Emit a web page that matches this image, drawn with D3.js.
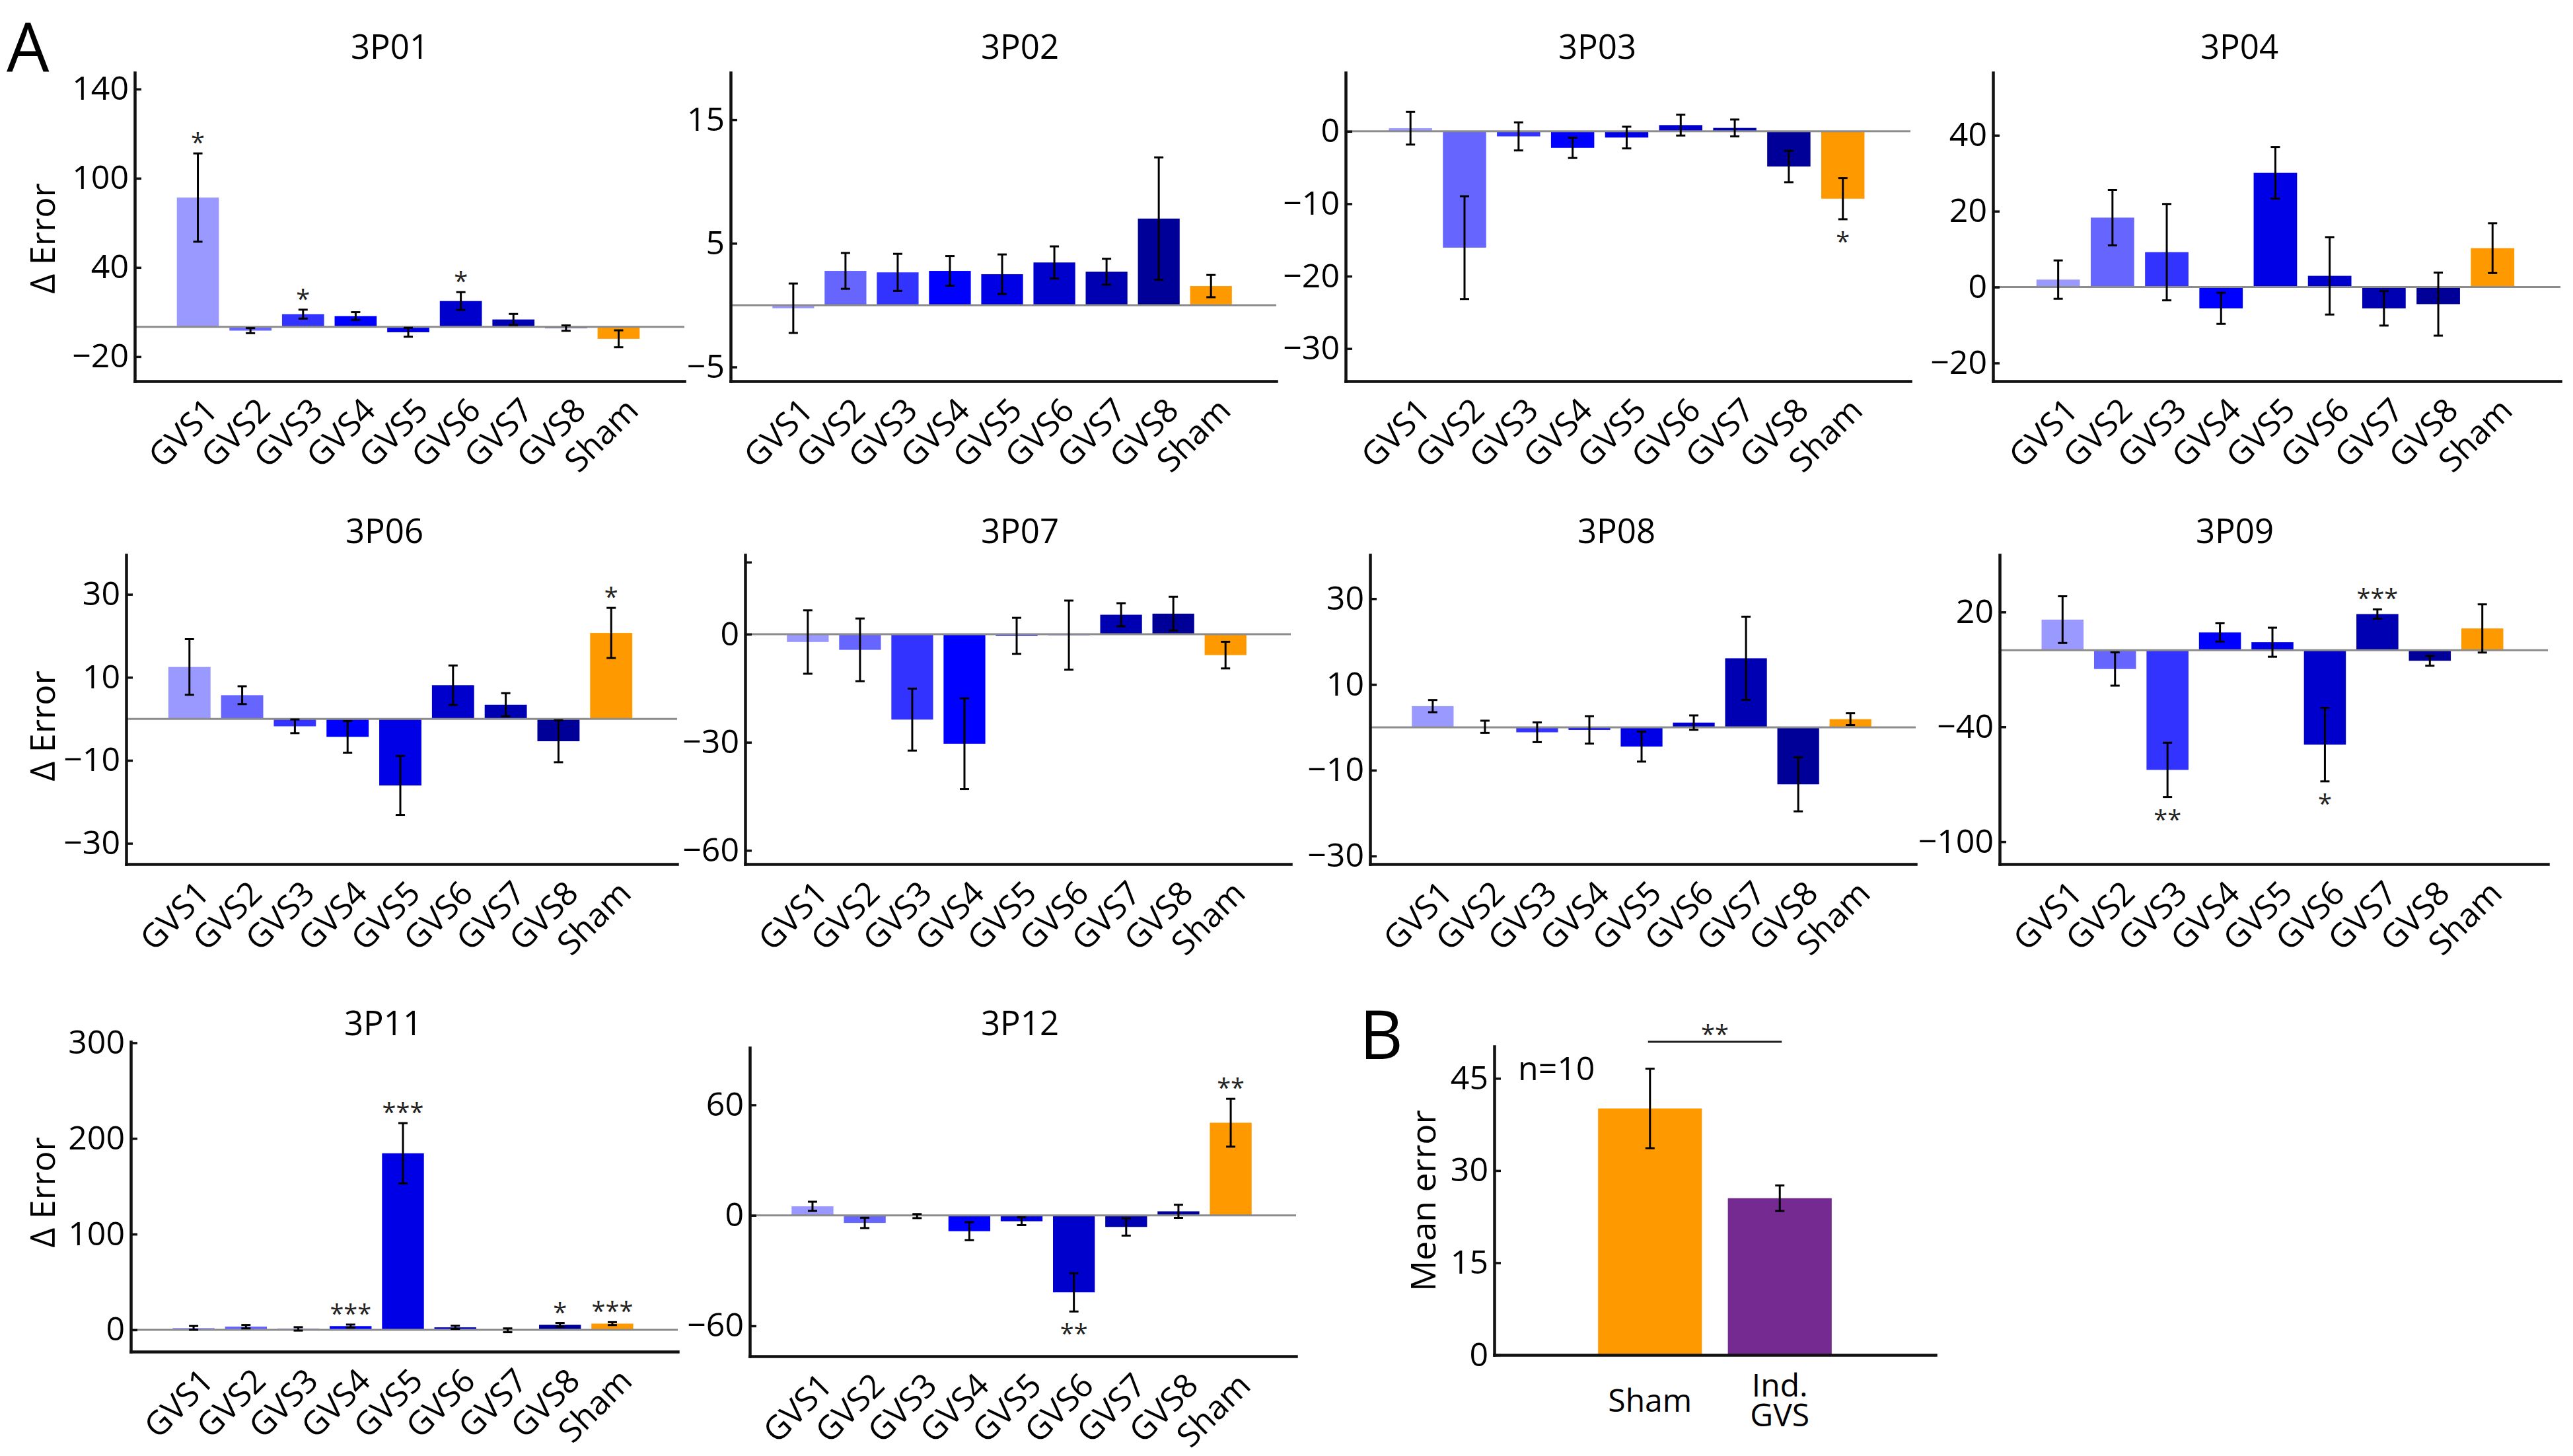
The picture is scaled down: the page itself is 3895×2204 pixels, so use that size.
<!DOCTYPE html>
<html>
<head>
<meta charset="utf-8">
<script src="https://cdnjs.cloudflare.com/ajax/libs/d3/7.8.5/d3.min.js"></script>
<style>
body { margin: 0; background: #fff; }
svg text { font-family: "Open Sans", "Noto Sans", sans-serif; fill: #000; }
</style>
</head>
<body>
<div id="figure"></div>
<script>
// ---- data ----
var conditions = ["GVS1", "GVS2", "GVS3", "GVS4", "GVS5", "GVS6", "GVS7", "GVS8", "Sham"];

var mean3P01 = [87, -2.5, 8.6, 7.3, -3.6, 17.4, 5.0, -0.8, -8.0];
var err3P01 = [29.7, 1.7, 3.0, 2.6, 3.0, 6.0, 3.7, 1.8, 5.7];
var sig3P01 = ["*", "", "*", "", "", "*", "", "", ""];
var ticks3P01 = [-20, 40, 100, 160];
var tickText3P01 = ["−20", "40", "100", "140"];

var mean3P02 = [-0.25, 2.77, 2.65, 2.77, 2.5, 3.45, 2.7, 7.0, 1.54];
var err3P02 = [2.0, 1.45, 1.5, 1.2, 1.6, 1.3, 1.05, 4.95, 0.9];
var sig3P02 = ["", "", "", "", "", "", "", "", ""];
var ticks3P02 = [-5, 5, 15];
var tickText3P02 = ["−5", "5", "15"];

var mean3P03 = [0.43, -16.06, -0.7, -2.28, -0.86, 0.86, 0.47, -4.86, -9.3];
var err3P03 = [2.26, 7.1, 1.94, 1.4, 1.5, 1.44, 1.16, 2.17, 2.84];
var sig3P03 = ["", "", "", "", "", "", "", "", "*"];
var ticks3P03 = [-30, -20, -10, 0];
var tickText3P03 = ["−30", "−20", "−10", "0"];

var mean3P04 = [1.97, 18.3, 9.2, -5.6, 30.1, 2.96, -5.6, -4.5, 10.26];
var err3P04 = [5.05, 7.3, 12.7, 4.1, 6.8, 10.2, 4.55, 8.3, 6.57];
var sig3P04 = ["", "", "", "", "", "", "", "", ""];
var ticks3P04 = [-20, 0, 20, 40];
var tickText3P04 = ["−20", "0", "20", "40"];

var mean3P06 = [12.5, 5.7, -1.8, -4.35, -16.05, 8.1, 3.4, -5.4, 20.7];
var err3P06 = [6.7, 2.14, 1.65, 3.8, 7.1, 4.76, 2.78, 5.06, 6.04];
var sig3P06 = ["", "", "", "", "", "", "", "", "*"];
var ticks3P06 = [-30, -10, 10, 30];
var tickText3P06 = ["−30", "−10", "10", "30"];

var mean3P07 = [-2.17, -4.34, -23.7, -30.4, -0.45, -0.26, 5.4, 5.7, -5.8];
var err3P07 = [8.8, 8.7, 8.6, 12.6, 5.0, 9.6, 3.2, 4.7, 3.7];
var sig3P07 = ["", "", "", "", "", "", "", "", ""];
var ticks3P07 = [-60, -30, 0, 20];
var tickText3P07 = ["−60", "−30", "0", ""];

var mean3P08 = [4.94, 0.12, -1.16, -0.6, -4.5, 1.1, 16.1, -13.3, 1.9];
var err3P08 = [1.42, 1.42, 2.3, 3.2, 3.5, 1.67, 9.7, 6.3, 1.38];
var sig3P08 = ["", "", "", "", "", "", "", "", ""];
var ticks3P08 = [-30, -10, 10, 30];
var tickText3P08 = ["−30", "−10", "10", "30"];

var mean3P09 = [16.0, -9.8, -62.5, 9.3, 4.2, -49.3, 18.9, -5.5, 11.4];
var err3P09 = [12.2, 8.7, 14.2, 4.8, 7.6, 19.2, 2.45, 2.6, 12.6];
var sig3P09 = ["", "", "**", "", "", "*", "***", "", ""];
var ticks3P09 = [-100, -40, 20];
var tickText3P09 = ["−100", "−40", "20"];

var mean3P11 = [2.0, 3.3, 1.0, 3.9, 184.5, 2.6, -0.5, 5.2, 6.5];
var err3P11 = [2.0, 1.8, 1.8, 1.6, 31.5, 1.6, 2.0, 2.0, 1.5];
var sig3P11 = ["", "", "", "***", "***", "", "", "*", "***"];
var ticks3P11 = [0, 100, 200, 300];
var tickText3P11 = ["0", "100", "200", "300"];

var mean3P12 = [4.9, -4.1, -0.4, -8.6, -3.2, -41.8, -6.3, 2.2, 50.3];
var err3P12 = [2.5, 2.8, 1.1, 4.9, 2.1, 10.4, 4.7, 3.55, 13.0];
var sig3P12 = ["", "", "", "", "", "**", "", "", "**"];
var ticks3P12 = [-60, 0, 60];
var tickText3P12 = ["−60", "0", "60"];

// panel B
var groupLabels = [["Sham"], ["Ind.", "GVS"]];
var groupMeans = [40.1, 25.5];
var groupErr = [6.46, 2.08];
var groupSig = "**";
var groupN = "n=10";
var ticksB = [0, 15, 30, 45];
var tickTextB = ["0", "15", "30", "45"];

// ---- styles ----
var barColors = ["#9999ff", "#6666ff", "#3333ff", "#0000ff", "#0000e6", "#0000cc", "#0000b3", "#000099", "#ff9900"];
var groupColors = ["#ff9900", "#742a91"];

// ---- layout (pixel boxes and axis limits per panel) ----
var layout = [
    {name: "3P01", mean: mean3P01, err: err3P01, sig: sig3P01, ticks: ticks3P01, tickText: tickText3P01,
     left: 204, right: 1036, top: 110, bottom: 577, yMin: -36.5, yMax: 171, titleX: 590, titleY: 71, ylabelY: 361},
    {name: "3P02", mean: mean3P02, err: err3P02, sig: sig3P02, ticks: ticks3P02, tickText: tickText3P02,
     left: 1106, right: 1932, top: 110, bottom: 577, yMin: -6.15, yMax: 18.8, titleX: 1544, titleY: 71},
    {name: "3P03", mean: mean3P03, err: err3P03, sig: sig3P03, ticks: ticks3P03, tickText: tickText3P03,
     left: 2037, right: 2892, top: 110, bottom: 577, yMin: -34.5, yMax: 8.1, titleX: 2418, titleY: 71},
    {name: "3P04", mean: mean3P04, err: err3P04, sig: sig3P04, ticks: ticks3P04, tickText: tickText3P04,
     left: 3017, right: 3876, top: 110, bottom: 577, yMin: -24.8, yMax: 56.5, titleX: 3390, titleY: 71},
    {name: "3P06", mean: mean3P06, err: err3P06, sig: sig3P06, ticks: ticks3P06, tickText: tickText3P06,
     left: 191, right: 1025, top: 840, bottom: 1308, yMin: -35, yMax: 39.5, titleX: 582, titleY: 804, ylabelY: 1099},
    {name: "3P07", mean: mean3P07, err: err3P07, sig: sig3P07, ticks: ticks3P07, tickText: tickText3P07,
     left: 1128, right: 1954, top: 840, bottom: 1308, yMin: -63.8, yMax: 22, titleX: 1544, titleY: 804},
    {name: "3P08", mean: mean3P08, err: err3P08, sig: sig3P08, ticks: ticks3P08, tickText: tickText3P08,
     left: 2074, right: 2900, top: 840, bottom: 1308, yMin: -31.9, yMax: 40.2, titleX: 2447, titleY: 804},
    {name: "3P09", mean: mean3P09, err: err3P09, sig: sig3P09, ticks: ticks3P09, tickText: tickText3P09,
     left: 3027, right: 3857, top: 840, bottom: 1308, yMin: -111.7, yMax: 49.8, titleX: 3383, titleY: 804},
    {name: "3P11", mean: mean3P11, err: err3P11, sig: sig3P11, ticks: ticks3P11, tickText: tickText3P11,
     left: 198, right: 1026, top: 1577, bottom: 2046, yMin: -22.8, yMax: 301, titleX: 580, titleY: 1549, ylabelY: 1805},
    {name: "3P12", mean: mean3P12, err: err3P12, sig: sig3P12, ticks: ticks3P12, tickText: tickText3P12,
     left: 1135, right: 1962, top: 1586, bottom: 2053, yMin: -76.5, yMax: 91, titleX: 1544, titleY: 1549}
];
var layoutB = {left: 2262, right: 2930, top: 1584, bottom: 2051, yMin: 0, yMax: 50.2};

var svg = d3.select("#figure").append("svg")
    .attr("width", 3895)
    .attr("height", 2204);

// ---- one GVS panel ----
barPanel = function(_svg, _panel) {
    this.svg = _svg;
    this.panel = _panel;
    this.initVis();
}

barPanel.prototype.initVis = function() {
    var vis = this;
    var p = vis.panel;
    vis.g = vis.svg.append("g").attr("class", "panel");

    vis.x = d3.scaleLinear().domain([-0.2, 10.25]).range([p.left, p.right]);
    vis.y = d3.scaleLinear().domain([p.yMin, p.yMax]).range([p.bottom, p.top]);
    var half = (vis.x(0.8) - vis.x(0)) / 2;

    vis.g.selectAll(".bar")
        .data(p.mean)
        .enter()
        .append("rect")
        .attr("class", "bar")
        .attr("x", function(d, i) { return vis.x(i + 1) - half; })
        .attr("y", function(d) { return vis.y(Math.max(0, d)); })
        .attr("width", half * 2)
        .attr("height", function(d) { return Math.abs(vis.y(d) - vis.y(0)); })
        .attr("fill", function(d, i) { return barColors[i]; });

    // zero line
    vis.g.append("line")
        .attr("x1", p.left).attr("x2", p.right)
        .attr("y1", vis.y(0)).attr("y2", vis.y(0))
        .attr("stroke", "#8c8c8c")
        .attr("stroke-width", 3);

    drawErrorBars(vis.g, p.mean, p.err, function(i) { return vis.x(i + 1); }, vis.y);

    // significance stars (baseline sits ~21px under the star's middle)
    vis.g.selectAll(".sig")
        .data(p.sig)
        .enter()
        .append("text")
        .attr("class", "sig")
        .attr("x", function(d, i) { return vis.x(i + 1); })
        .attr("y", function(d, i) {
            var v = p.mean[i], e = p.err[i];
            return v >= 0 ? vis.y(v + e) - 24 + 21 : vis.y(v - e) + 26 + 21;
        })
        .attr("text-anchor", "middle")
        .attr("font-size", 38)
        .style("fill", "#222")
        .text(function(d) { return d; });

    // axes
    var yAxis = d3.axisLeft(vis.y)
        .tickValues(p.ticks)
        .tickFormat(function(d, i) { return p.tickText[i]; })
        .tickSizeInner(-10)
        .tickSizeOuter(0)
        .tickPadding(9);
    var yg = vis.g.append("g").attr("transform", "translate(" + p.left + ",0)").call(yAxis);
    styleAxis(yg, 50);
    yg.selectAll(".tick text").filter(function() { return this.textContent === ""; }).remove();

    var xAxis = d3.axisBottom(vis.x)
        .tickValues(d3.range(1, 10))
        .tickFormat(function(d) { return conditions[d - 1]; })
        .tickSize(0)
        .tickSizeOuter(0);
    var xg = vis.g.append("g").attr("transform", "translate(0," + p.bottom + ")").call(xAxis);
    styleAxis(xg, 50);
    xg.selectAll(".tick text")
        .attr("x", 0).attr("y", 0).attr("dy", "0.35em")
        .style("text-anchor", "end")
        .attr("transform", "translate(20,35) rotate(-45)");

    vis.g.append("text")
        .attr("x", (p.titleX)).attr("y", p.titleY)
        .attr("dy", "0.35em")
        .attr("text-anchor", "middle")
        .attr("font-size", 51)
        .text(p.name);

    if (p.ylabelY) {
        vis.g.append("text")
            .attr("transform", "translate(65," + p.ylabelY + ") rotate(-90)")
            .attr("dy", "0.35em")
            .attr("text-anchor", "middle")
            .attr("font-size", 52)
            .text("Δ Error");
    }
}

function drawErrorBars(g, means, errs, xOf, y) {
    var cap = 7;
    var eb = g.append("g").attr("class", "errorbars")
        .attr("stroke", "#000").attr("stroke-width", 3);
    means.forEach(function(v, i) {
        var cx = xOf(i), lo = y(v - errs[i]), hi = y(v + errs[i]);
        eb.append("line").attr("x1", cx).attr("x2", cx).attr("y1", lo).attr("y2", hi);
        eb.append("line").attr("x1", cx - cap).attr("x2", cx + cap).attr("y1", lo).attr("y2", lo);
        eb.append("line").attr("x1", cx - cap).attr("x2", cx + cap).attr("y1", hi).attr("y2", hi);
    });
}

function styleAxis(g, fontSize) {
    g.attr("font-size", fontSize);
    g.select(".domain").attr("stroke", "#111").attr("stroke-width", 4.5).attr("stroke-linecap", "square");
    g.selectAll(".tick line").attr("stroke", "#111").attr("stroke-width", 3.5);
}

layout.forEach(function(p) { new barPanel(svg, p); });

// ---- panel B ----
(function() {
    var p = layoutB;
    var g = svg.append("g").attr("class", "panelB");
    var x = d3.scaleLinear().domain([-0.2, 3.2]).range([p.left, p.right]);
    var y = d3.scaleLinear().domain([p.yMin, p.yMax]).range([p.bottom, p.top]);
    var half = (x(0.8) - x(0)) / 2;

    g.selectAll(".bar")
        .data(groupMeans)
        .enter()
        .append("rect")
        .attr("x", function(d, i) { return x(i + 1) - half; })
        .attr("y", function(d) { return y(d); })
        .attr("width", half * 2)
        .attr("height", function(d) { return y(0) - y(d); })
        .attr("fill", function(d, i) { return groupColors[i]; });

    drawErrorBars(g, groupMeans, groupErr, function(i) { return x(i + 1); }, y);

    var yAxis = d3.axisLeft(y)
        .tickValues(ticksB)
        .tickFormat(function(d, i) { return tickTextB[i]; })
        .tickSizeInner(-10)
        .tickSizeOuter(0)
        .tickPadding(9);
    styleAxis(g.append("g").attr("transform", "translate(" + p.left + ",0)").call(yAxis), 50);

    var xAxis = d3.axisBottom(x).tickValues([]).tickSizeOuter(0);
    styleAxis(g.append("g").attr("transform", "translate(0," + p.bottom + ")").call(xAxis), 50);

    // category labels, multi-line ones stacked around the same middle
    groupLabels.forEach(function(lines, i) {
        var lineGap = 45;
        lines.forEach(function(s, j) {
            g.append("text")
                .attr("x", x(i + 1))
                .attr("y", p.bottom + 69 + (j - (lines.length - 1) / 2) * lineGap)
                .attr("dy", "0.35em")
                .attr("text-anchor", "middle")
                .attr("font-size", 48)
                .text(s);
        });
    });

    // significance bracket
    g.append("line")
        .attr("x1", x(1) - 3).attr("x2", x(2) + 3)
        .attr("y1", p.top - 7).attr("y2", p.top - 7)
        .attr("stroke", "#222").attr("stroke-width", 3);
    g.append("text")
        .attr("x", (x(1) + x(2)) / 2)
        .attr("y", p.top - 7 - 19 + 21)
        .attr("text-anchor", "middle")
        .attr("font-size", 38)
        .style("fill", "#222")
        .text(groupSig);

    g.append("text")
        .attr("x", p.left + 36).attr("y", p.top + 51)
        .attr("font-size", 50)
        .text(groupN);

    g.append("text")
        .attr("transform", "translate(2155," + ((p.top + p.bottom) / 2) + ") rotate(-90)")
        .attr("dy", "0.35em")
        .attr("text-anchor", "middle")
        .attr("font-size", 52)
        .text("Mean error");
})();

// panel letters
svg.append("text").attr("x", 10).attr("y", 108).attr("font-size", 102).text("A");
svg.append("text").attr("x", 2058).attr("y", 1603).attr("font-size", 102).text("B");
</script>
</body>
</html>
